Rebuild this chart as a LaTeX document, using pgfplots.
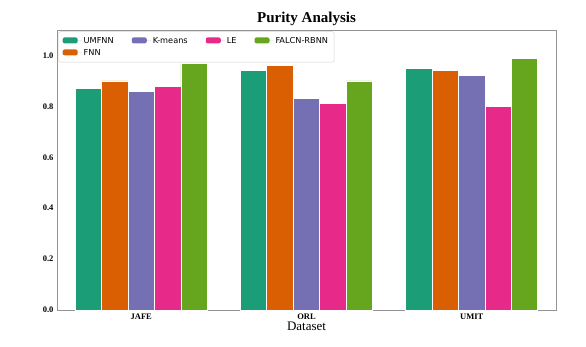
\documentclass[border=0pt]{standalone}
\usepackage{fontspec}
\setmainfont{Liberation Serif}
\newfontfamily\legfont{DejaVu Sans}
\usepackage{pgfplots}
\usepackage{pgfplotstable}
\pgfplotsset{compat=1.18}

% Dark2 palette
\definecolor{cumfnn}{HTML}{1B9E77}
\definecolor{cfnn}{HTML}{D95F02}
\definecolor{ckmeans}{HTML}{7570B3}
\definecolor{cle}{HTML}{E7298A}
\definecolor{cfalcn}{HTML}{66A61E}

\pgfplotstableread{
x umfnn fnn kmeans le falcn
0 0.87 0.90 0.86 0.88 0.97
1 0.94 0.96 0.83 0.81 0.90
2 0.95 0.94 0.92 0.80 0.99
}\purity

\begin{document}
\begin{tikzpicture}
\useasboundingbox (0pt,0pt) rectangle (586pt,346pt);
\begin{axis}[
    at={(57pt,36pt)}, anchor=south west,
    scale only axis, width=499pt, height=280pt,
    xmin=-0.51, xmax=2.51, ymin=0, ymax=1.1,
    ybar, bar width=0.16,
    xtick={0,1,2}, xticklabels={JAFE,ORL,UMIT},
    ytick={0,0.2,0.4,0.6,0.8,1.0},
    yticklabel style={/pgf/number format/.cd, fixed, fixed zerofill, precision=1},
    /pgf/number format/assume math mode=true,
    ticklabel style={font=\bfseries\fontsize{8.5}{10}\selectfont},
    major tick length=0pt,
    axis line style={draw=gray!85},
    title={Purity Analysis},
    title style={font=\bfseries\fontsize{15}{16}\selectfont, yshift=-5pt},
    xlabel={Dataset},
    xlabel style={font=\fontsize{13}{14}\selectfont, yshift=4pt},
    legend columns=4,
    legend cell align=left,
    legend style={at={(0.003,0.995)}, anchor=north west, draw=gray!35,
        rounded corners=2pt, font=\legfont\fontsize{8.2}{10}\selectfont,
        /tikz/every even column/.append style={column sep=16pt},
        row sep=0.5pt, inner xsep=4pt, inner ysep=3.5pt},
    legend image code/.code={\fill[#1] (0pt,-2.5pt) rectangle (15pt,3.5pt);
        \path (0pt,0pt) -- (19pt,0pt);},
    every axis plot/.append style={draw=white, line width=0.8pt},
]
    \addplot[fill=cumfnn, bar shift=-0.32, forget plot] table[x=x, y=umfnn] {\purity};
    \addplot[fill=cfnn, bar shift=-0.16, forget plot] table[x=x, y=fnn] {\purity};
    \addplot[fill=ckmeans, bar shift=0, forget plot] table[x=x, y=kmeans] {\purity};
    \addplot[fill=cle, bar shift=0.16, forget plot] table[x=x, y=le] {\purity};
    \addplot[fill=cfalcn, bar shift=0.32, forget plot] table[x=x, y=falcn] {\purity};

    % legend filled row by row as matplotlib fills it column by column
    \addlegendimage{fill=cumfnn, draw=none}
    \addlegendentry{UMFNN}
    \addlegendimage{fill=ckmeans, draw=none}
    \addlegendentry{K-means}
    \addlegendimage{fill=cle, draw=none}
    \addlegendentry{LE}
    \addlegendimage{fill=cfalcn, draw=none}
    \addlegendentry{FALCN-RBNN}
    \addlegendimage{fill=cfnn, draw=none}
    \addlegendentry{FNN}
\end{axis}
\end{tikzpicture}
\end{document}
